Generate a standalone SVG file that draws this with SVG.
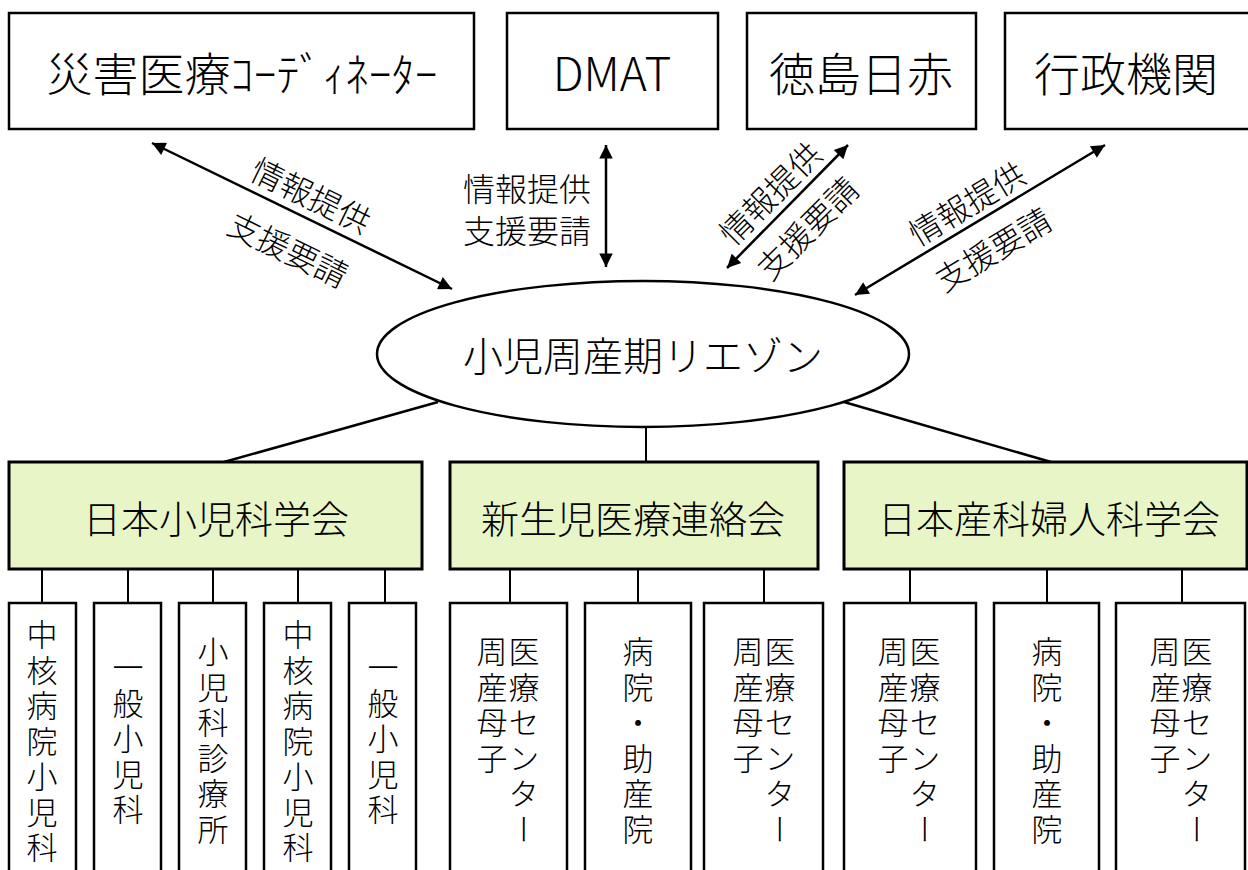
<svg xmlns="http://www.w3.org/2000/svg" width="1248" height="870" viewBox="0 0 1248 870">
<style>
  .box { fill: #ffffff; stroke: #000; stroke-width: 2.5; }
  .gbox { fill: #e8f5c6; stroke: #000; stroke-width: 3; }
  .t { font-family: "Noto Sans CJK JP", "Noto Sans", sans-serif; font-weight: 300; fill: #000; }
  .big { font-size: 46px; text-anchor: middle; dominant-baseline: central; }
  .mid { font-size: 38px; text-anchor: middle; dominant-baseline: central; }
  .lbl { font-size: 32px; text-anchor: middle; dominant-baseline: central; }
  .vt { font-size: 31px; writing-mode: vertical-rl; text-orientation: upright; letter-spacing: 4.5px; }
  .ln { stroke: #000; stroke-width: 2.5; fill: none; }
  .cn { stroke: #000; stroke-width: 2; fill: none; }
</style>
<defs>
  <marker id="ah" viewBox="0 0 10 10" refX="10" refY="5" markerWidth="6.6" markerHeight="5.4" orient="auto-start-reverse" markerUnits="strokeWidth">
    <path d="M0,0 L10,5 L0,10 z" fill="#000"/>
  </marker>
</defs>
<rect width="1248" height="870" fill="#ffffff"/>

<g id="connectors">
  <line class="ln" x1="152" y1="143" x2="452" y2="289" marker-start="url(#ah)" marker-end="url(#ah)"/>
  <line class="ln" x1="606" y1="145" x2="606" y2="267" marker-start="url(#ah)" marker-end="url(#ah)"/>
  <line class="ln" x1="848" y1="145" x2="727" y2="268" marker-start="url(#ah)" marker-end="url(#ah)"/>
  <line class="ln" x1="1105" y1="145" x2="855" y2="295" marker-start="url(#ah)" marker-end="url(#ah)"/>
  <line class="ln" x1="438" y1="402" x2="224" y2="462"/>
  <line class="cn" x1="646" y1="427" x2="646" y2="462"/>
  <line class="ln" x1="844" y1="402" x2="1051" y2="462"/>
  <line class="cn" x1="42" y1="569" x2="42" y2="603"/>
  <line class="cn" x1="128" y1="569" x2="128" y2="603"/>
  <line class="cn" x1="213" y1="569" x2="213" y2="603"/>
  <line class="cn" x1="298" y1="569" x2="298" y2="603"/>
  <line class="cn" x1="385" y1="569" x2="385" y2="603"/>
  <line class="cn" x1="510" y1="569" x2="510" y2="603"/>
  <line class="cn" x1="638" y1="569" x2="638" y2="603"/>
  <line class="cn" x1="764" y1="569" x2="764" y2="603"/>
  <line class="cn" x1="910" y1="569" x2="910" y2="603"/>
  <line class="cn" x1="1047" y1="569" x2="1047" y2="603"/>
  <line class="cn" x1="1182" y1="569" x2="1182" y2="603"/>
</g>

<g id="edge-labels">
  <g transform="translate(312,194) rotate(26)"><text class="t lbl" x="0" y="0">情報提供</text></g>
  <g transform="translate(289,248) rotate(26)"><text class="t lbl" x="0" y="0">支援要請</text></g>
  <text class="t lbl" x="527" y="187">情報提供</text>
  <text class="t lbl" x="527" y="229">支援要請</text>
  <g transform="translate(769,192) rotate(-45)"><text class="t lbl" x="0" y="0">情報提供</text></g>
  <g transform="translate(806,227) rotate(-45)"><text class="t lbl" x="0" y="0">支援要請</text></g>
  <g transform="translate(966,202) rotate(-31)"><text class="t lbl" x="0" y="0">情報提供</text></g>
  <g transform="translate(992,248) rotate(-31)"><text class="t lbl" x="0" y="0">支援要請</text></g>
</g>

<g id="n-coordinator"><rect class="box" x="9" y="13" width="465" height="116"/><text class="t big" x="242" y="71">災害医療ｺｰﾃﾞｨﾈｰﾀｰ</text></g>
<g id="n-dmat"><rect class="box" x="507" y="13" width="211" height="116"/><text class="t big" x="612" y="71">DMAT</text></g>
<g id="n-tokushima"><rect class="box" x="747" y="13" width="229" height="116"/><text class="t big" x="861" y="71">徳島日赤</text></g>
<g id="n-gyosei"><rect class="box" x="1005" y="13" width="260" height="116"/><text class="t big" x="1126" y="71">行政機関</text></g>

<g id="n-liaison"><ellipse class="box" cx="643" cy="354" rx="266" ry="73"/><text class="t" x="643" y="354" font-size="40" text-anchor="middle" dominant-baseline="central">小児周産期リエゾン</text></g>

<g id="n-jps"><rect class="gbox" x="9" y="462" width="413" height="107"/><text class="t mid" x="216" y="516">日本小児科学会</text></g>
<g id="n-neonatal"><rect class="gbox" x="450" y="462" width="368" height="107"/><text class="t mid" x="633" y="516">新生児医療連絡会</text></g>
<g id="n-jsog"><rect class="gbox" x="844" y="462" width="403" height="107"/><text class="t mid" x="1049" y="516">日本産科婦人科学会</text></g>

<g id="n-a1"><rect class="box" x="9" y="603" width="67" height="290"/><text class="t vt" x="42" y="619">中核病院小児科</text></g>
<g id="n-a2"><rect class="box" x="94" y="603" width="67" height="290"/><text class="t vt" x="128" y="652">一般小児科</text></g>
<g id="n-a3"><rect class="box" x="179" y="603" width="67" height="290"/><text class="t vt" x="213" y="636">小児科診療所</text></g>
<g id="n-a4"><rect class="box" x="264" y="603" width="67" height="290"/><text class="t vt" x="298" y="619">中核病院小児科</text></g>
<g id="n-a5"><rect class="box" x="349" y="603" width="67" height="290"/><text class="t vt" x="383" y="652">一般小児科</text></g>

<g id="n-b1"><rect class="box" x="450" y="603" width="117" height="290"/><text class="t vt" x="492" y="636">周産母子</text><text class="t vt" x="524" y="636">医療センター</text></g>
<g id="n-b2"><rect class="box" x="585" y="603" width="106" height="290"/><text class="t vt" x="638" y="636">病院・助産院</text></g>
<g id="n-b3"><rect class="box" x="704" y="603" width="119" height="290"/><text class="t vt" x="748" y="636">周産母子</text><text class="t vt" x="780" y="636">医療センター</text></g>

<g id="n-c1"><rect class="box" x="844" y="603" width="132" height="290"/><text class="t vt" x="893" y="636">周産母子</text><text class="t vt" x="925" y="636">医療センター</text></g>
<g id="n-c2"><rect class="box" x="994" y="603" width="105" height="290"/><text class="t vt" x="1047" y="636">病院・助産院</text></g>
<g id="n-c3"><rect class="box" x="1116" y="603" width="129" height="290"/><text class="t vt" x="1165" y="636">周産母子</text><text class="t vt" x="1197" y="636">医療センター</text></g>
</svg>
